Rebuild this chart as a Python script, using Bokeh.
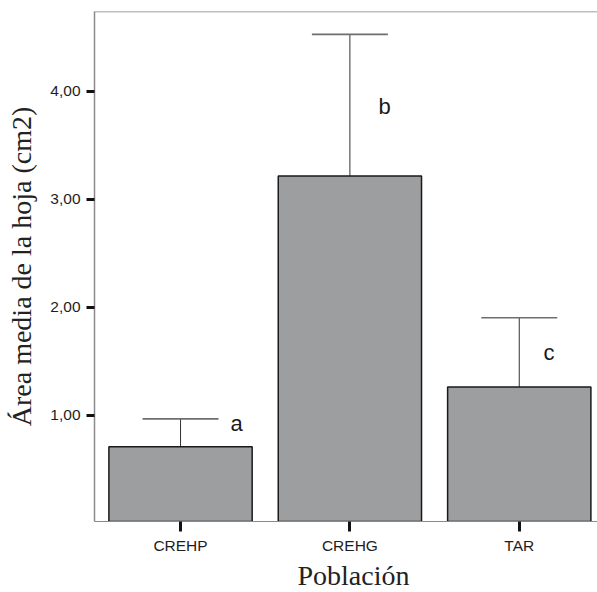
from bokeh.plotting import figure
from bokeh.models import (ColumnDataSource, Range1d, FixedTicker, Whisker, TeeHead,
                          Span, Title)
from bokeh.core.properties import value
from bokeh.embed import file_html
from bokeh.resources import INLINE

# ---- data ----
categories = ["CREHP", "CREHG", "TAR"]
means = [0.706, 3.215, 1.259]
upper = [0.965, 4.527, 1.902]
letters = ["a", "b", "c"]
y_ticks = [1.0, 2.0, 3.0, 4.0]
y_tick_labels = ["1,00", "2,00", "3,00", "4,00"]
x_title = "Población"
y_title = "Área media de la hoja (cm2)"

# annotation placement (offset from bar centre, height in data units)
letter_dx = [0.331, 0.205, 0.175]
letter_y = [0.922, 3.858, 1.58]

idx = list(range(len(categories)))

src = ColumnDataSource(dict(x=idx, mean=means, upper=upper))
lsrc = ColumnDataSource(dict(x=[i + d for i, d in zip(idx, letter_dx)], y=letter_y, t=letters))

Y0, Y1 = 0.014, 4.739
p = figure(width=597, height=592, output_backend="svg", toolbar_location=None,
           x_range=Range1d(-0.508, 2.462), y_range=Range1d(Y0, Y1),
           min_border_left=94, min_border_right=0, min_border_top=11, min_border_bottom=71)
p.outline_line_color = None
p.xgrid.visible = False
p.ygrid.visible = False
p.background_fill_color = "white"
p.border_fill_color = "white"

p.vbar(x="x", top="mean", bottom=0, width=0.846, source=src,
       fill_color="#9d9ea0", line_color="#1a1a1a", line_width=1.5)

w = Whisker(base="x", lower="mean", upper="upper", source=src, dimension="height",
            line_color="#333333", line_width=1,
            upper_head=TeeHead(size=76, line_color="#6e6e6e", line_width=1.6),
            lower_head=None)
p.add_layout(w)

p.text(x="x", y="y", text="t", source=lsrc, text_font=value("Liberation Sans"),
       text_font_size="22px", text_align="center", text_baseline="middle",
       text_color="#1a1a1a")

p.add_layout(Span(location=Y1, dimension="width", line_color="#808080", line_width=1.5))

# x axis title (as a Title below the axis, positioned like the reference)
p.add_layout(Title(text=x_title, align="left", offset=203, standoff=2,
                   text_font="Liberation Serif", text_font_size="28px",
                   text_font_style="normal", text_color="#222222"), "below")

# x axis
xa = p.xaxis[0]
xa.ticker = FixedTicker(ticks=idx)
xa.major_label_overrides = {i: c for i, c in zip(idx, categories)}
xa.minor_tick_line_color = None
xa.axis_line_color = "#8a8a8a"
xa.axis_line_width = 1
xa.major_tick_line_color = "#111111"
xa.major_tick_line_width = 3
xa.major_tick_out = 10
xa.major_tick_in = 0
xa.major_label_text_font = "Liberation Sans"
xa.major_label_text_font_size = "15.5px"
xa.major_label_text_color = "#1e1e1e"
xa.major_label_standoff = 5

# y axis
ya = p.yaxis[0]
ya.ticker = FixedTicker(ticks=y_ticks)
ya.major_label_overrides = {t: l for t, l in zip(y_ticks, y_tick_labels)}
ya.minor_tick_line_color = None
ya.axis_line_color = "#8a8a8a"
ya.axis_line_width = 1.5
ya.major_tick_line_color = "#111111"
ya.major_tick_line_width = 3
ya.major_tick_out = 8
ya.major_tick_in = 0
ya.major_label_text_font = "Liberation Sans"
ya.major_label_text_font_size = "15.5px"
ya.major_label_text_color = "#1e1e1e"
ya.major_label_standoff = 6
ya.axis_label = y_title
ya.axis_label_text_font = "Liberation Serif"
ya.axis_label_text_font_size = "28px"
ya.axis_label_text_font_style = "normal"
ya.axis_label_text_color = "#222222"
ya.axis_label_standoff = 10

open("out.html", "w").write(file_html(p, INLINE))
